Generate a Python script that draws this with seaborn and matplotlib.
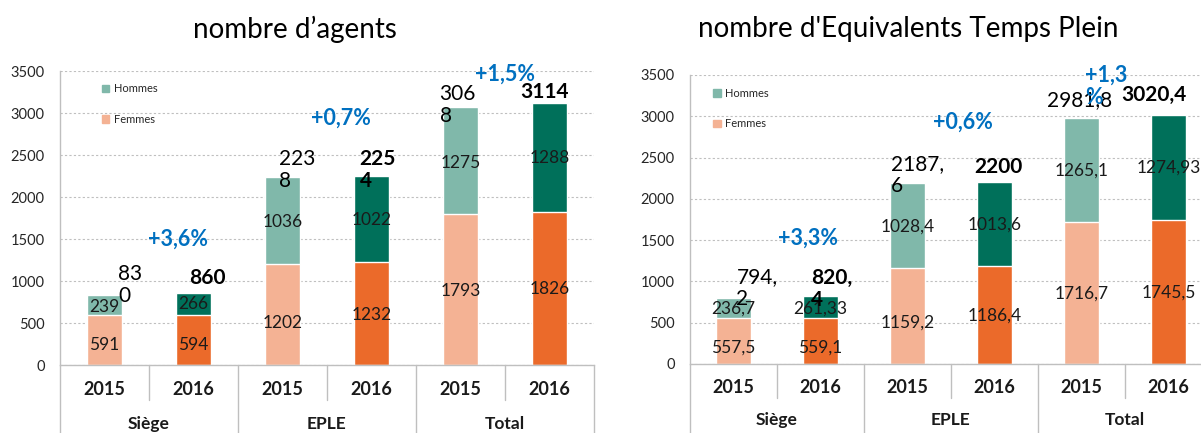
import numpy as np
import pandas as pd
import matplotlib.pyplot as plt
import seaborn as sns
from matplotlib.patches import Patch
from matplotlib.transforms import blended_transform_factory

sns.set_style('white')
plt.rcParams['font.family'] = ['Lato', 'DejaVu Sans']

groups = ['Siège', 'EPLE', 'Total']
years = ['2015', '2016']

# nombre d'agents
agents_femmes = [591, 594, 1202, 1232, 1793, 1826]
agents_hommes = [239, 266, 1036, 1022, 1275, 1288]
agents_total = [830, 860, 2238, 2254, 3068, 3114]
agents_femmes_txt = ['591', '594', '1202', '1232', '1793', '1826']
agents_hommes_txt = ['239', '266', '1036', '1022', '1275', '1288']
agents_total_txt = ['83\n0', '860', '223\n8', '225\n4', '306\n8', '3114']
agents_pct = ['+3,6%', '+0,7%', '+1,5%']

# nombre d'ETP
etp_femmes = [557.5, 559.1, 1159.2, 1186.4, 1716.7, 1745.5]
etp_hommes = [236.7, 261.33, 1028.4, 1013.6, 1265.1, 1274.93]
etp_total = [794.2, 820.4, 2187.6, 2200, 2981.8, 3020.4]
etp_femmes_txt = ['557,5', '559,1', '1159,2', '1186,4', '1716,7', '1745,5']
etp_hommes_txt = ['236,7', '261,33', '1028,4', '1013,6', '1265,1', '1274,93']
etp_total_txt = ['794,\n2', '820,\n4', '2187,\n6', '2200', '2981,8', '3020,4']
etp_pct = ['+3,3%', '+0,6%', '+1,3\n%']

col_h = {'2015': '#80B8AA', '2016': '#00705A'}
col_f = {'2015': '#F4B294', '2016': '#EB6A2A'}
blue = '#0070C0'
grey = '#BFBFBF'

# label anchors (Excel labels were moved by hand)
lay_agents = dict(
    fy=[238, 238, 500, 595, 880, 905],
    hy=[690, 726, 1702, 1726, 2405, 2464],
    tx=[0.29, 1.16, 2.16, 3.07, 3.97, 4.94],
    ty=[952, 1036, 2321, 2321, 3095, 3250],
    px=[0.83, 2.66, 4.5], py=[1500, 2940, 3464],
    leg=(0.078, 0.958), short=-0.119, long=-0.235, yr=-0.082, gr=-0.2,
    title=(295, 'nombre d\u2019agents'))
lay_etp = dict(
    fy=[200, 200, 496, 581, 847, 860],
    hy=[666, 666, 1659, 1683, 2337, 2373],
    tx=[0.27, 1.13, 2.12, 3.05, 3.98, 4.83],
    ty=[920, 910, 2288, 2385, 3196, 3257],
    px=[0.86, 2.64, 4.29], py=[1525, 2930, 3366],
    leg=(0.044, 0.955), short=-0.118, long=-0.245, yr=-0.08, gr=-0.194,
    title=(908, "nombre d'Equivalents Temps Plein"))


def panel(ax, fem, hom, tot, fem_txt, hom_txt, tot_txt, pct, lay):
    df = pd.DataFrame({'slot': range(6), 'year': years * 3,
                       'femmes': fem, 'total': tot})
    sns.barplot(df, x='slot', y='total', hue='year', palette=col_h, dodge=False,
                width=0.4, errorbar=None, legend=False, saturation=1, ax=ax)
    sns.barplot(df, x='slot', y='femmes', hue='year', palette=col_f, dodge=False,
                width=0.4, errorbar=None, legend=False, saturation=1, ax=ax)
    ax.set_xlim(-0.5, 5.5)
    ax.set_ylim(0, 3500)
    ax.set_yticks(np.arange(0, 3501, 500))
    ax.set_xticks([])
    ax.set_xlabel('')
    ax.set_ylabel('')
    ax.tick_params(axis='y', length=0, pad=11, labelsize=10.5, labelcolor='#262626')
    ax.yaxis.grid(True, color=grey, linestyle=(0, (2, 2)), linewidth=0.8)
    ax.set_axisbelow(True)
    for s in ['top', 'right']:
        ax.spines[s].set_visible(False)
    for s in ['left', 'bottom']:
        ax.spines[s].set_color(grey)
        ax.spines[s].set_linewidth(1)

    for i in range(6):
        ax.text(i, lay['fy'][i], fem_txt[i], ha='center', va='center', fontsize=12.5, color='#1a1a1a')
        ax.text(i, lay['hy'][i], hom_txt[i], ha='center', va='center', fontsize=12.5, color='#1a1a1a')
        ax.text(lay['tx'][i], lay['ty'][i], tot_txt[i], ha='center', va='center',
                multialignment='left', fontsize=15, linespacing=1.1,
                fontweight='bold' if i % 2 else 'normal', color='black')
    for k in range(3):
        ax.text(lay['px'][k], lay['py'][k], pct[k], ha='center', va='center',
                multialignment='left', fontsize=15.5, fontweight='bold', color=blue,
                linespacing=1.1)

    # category axis
    tr = blended_transform_factory(ax.transData, ax.transAxes)
    for b in np.arange(-0.5, 6, 1):
        low = lay['long'] if (b + 0.5) % 2 == 0 else lay['short']
        ax.plot([b, b], [0, low], color=grey, lw=1, transform=tr, clip_on=False)
    for i in range(6):
        ax.text(i, lay['yr'], years[i % 2], transform=tr, ha='center', va='center',
                fontsize=13, fontweight='bold', color='#1a1a1a')
    for g in range(3):
        ax.text(2 * g + 0.5, lay['gr'], groups[g], transform=tr, ha='center', va='center',
                fontsize=12.5, fontweight='bold', color='#1a1a1a')

    handles = [Patch(color=col_h['2015'], label='Hommes'),
               Patch(color=col_f['2015'], label='Femmes')]
    ax.legend(handles=handles, loc='upper left', bbox_to_anchor=lay['leg'], frameon=False,
              fontsize=8, handlelength=0.7, handleheight=0.7, handletextpad=0.4,
              borderpad=0, borderaxespad=0, labelspacing=1.75)
    fig.text(lay['title'][0] / 1201, 1 - 29 / 433, lay['title'][1], ha='center',
             va='center', fontsize=20, color='black')


fig = plt.figure(figsize=(12.01, 4.33), dpi=100)
ax1 = fig.add_axes([0.04996, 0.157, 0.4446, 0.679])
ax2 = fig.add_axes([0.5745, 0.1594, 0.4346, 0.6674])

panel(ax1, agents_femmes, agents_hommes, agents_total,
      agents_femmes_txt, agents_hommes_txt, agents_total_txt, agents_pct, lay_agents)
panel(ax2, etp_femmes, etp_hommes, etp_total,
      etp_femmes_txt, etp_hommes_txt, etp_total_txt, etp_pct, lay_etp)

fig.savefig('out.png', dpi=100)
